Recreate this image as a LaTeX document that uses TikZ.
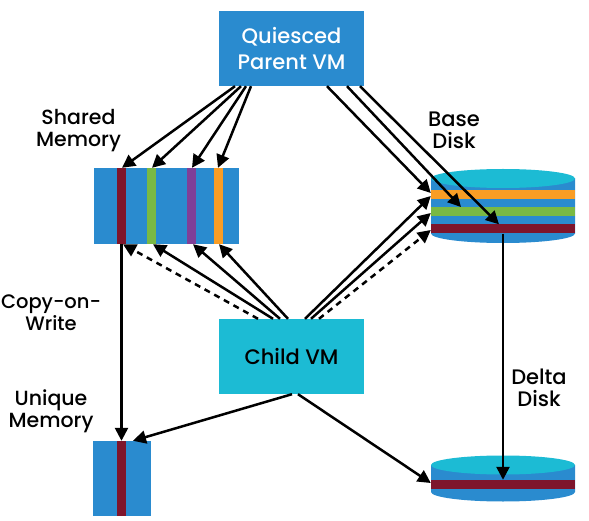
\documentclass[tikz,border=0pt]{standalone}
\usepackage{fontspec}
\setmainfont{Poppins Medium}
\usetikzlibrary{arrows.meta}
\definecolor{cblue}{HTML}{2A8BCF}
\definecolor{cteal}{HTML}{1CBBD4}
\definecolor{cmaroon}{HTML}{7E152C}
\definecolor{cgreen}{HTML}{7AB944}
\definecolor{cpurple}{HTML}{7F3F98}
\definecolor{corange}{HTML}{F99D25}
\tikzset{
  vmbox/.style={inner sep=0pt,minimum width=145pt,minimum height=75pt,align=center,font=\fontsize{21}{25.5}\selectfont},
  membox/.style={fill=cblue,inner sep=0pt,minimum height=76pt},
  vstripe/.style={inner sep=0pt,minimum width=9pt,minimum height=76pt},
  hband/.style={inner sep=0pt,minimum width=144pt,minimum height=9pt},
  lbl/.style={align=center,text=black,font=\fontsize{20.5}{22}\selectfont},
  arr/.style={line width=2.5pt,-{Triangle[length=13pt,width=13pt]}},
  dash arr/.style={arr,dash pattern=on 6pt off 5pt}
}
\begin{document}
\begin{tikzpicture}[x=1pt,y=-1pt]
\useasboundingbox (0,0) rectangle (589,521);
% shared memory
\node[membox,minimum width=145.5pt] (shared) at (166.25,206) {};
\node[vstripe,fill=cmaroon] (s1) at (121.5,206) {};
\node[vstripe,fill=cgreen] (s2) at (151.5,206) {};
\node[vstripe,fill=cpurple] (s3) at (191.5,206) {};
\node[vstripe,fill=corange] (s4) at (218.5,206) {};
% unique memory
\node[membox,minimum width=58pt,minimum height=75pt] (unique) at (122,478.5) {};
\node[vstripe,fill=cmaroon,minimum height=75pt] (u1) at (121.5,478.5) {};
% base disk
\fill[cblue] (431,178.5) -- (431,233.5) arc[start angle=180,end angle=360,x radius=72pt,y radius=9.5pt] -- (575,178.5) -- cycle;
\node[hband,fill=corange] (b1) at (503,194.5) {};
\node[hband,fill=cgreen] (b2) at (503,212) {};
\node[hband,fill=cmaroon] (b3) at (503,229) {};
\fill[cteal] (503,178.5) ellipse[x radius=72pt,y radius=9.5pt];
% delta disk
\fill[cblue] (431,465) -- (431,492) arc[start angle=180,end angle=360,x radius=72pt,y radius=9.5pt] -- (575,465) -- cycle;
\node[hband,fill=cmaroon] (d1) at (503,484.5) {};
\fill[cteal] (503,465) ellipse[x radius=72pt,y radius=9.5pt];
% VMs
\node[vmbox,fill=cblue,text=white] (parent) at (291.5,48.5) {Quiesced\\Parent VM};
\node[vmbox,fill=cteal,text=black] (child) at (291.5,356.5) {Child VM};
% labels
\node[lbl] (lshared) at (78.5,130.5) {Shared\\Memory};
\node[lbl,font=\fontsize{21}{22}\selectfont] (lbase) at (454,130) {Base\\Disk};
\node[lbl,font=\fontsize{19.5}{22}\selectfont] (lcow) at (51,313) {Copy-on-\\Write};
\node[lbl] (lunique) at (51,411.5) {Unique\\Memory};
\node[lbl,font=\fontsize{21}{22}\selectfont] (ldelta) at (539,388) {Delta\\Disk};
% parent to shared
\draw[arr] ([xshift=-56.5pt]parent.south) -- ([xshift=.5pt]s1.north);
\draw[arr] ([xshift=-50.5pt]parent.south) -- ([xshift=.5pt]s2.north);
\draw[arr] ([xshift=-45.5pt]parent.south) -- ([xshift=.5pt]s3.north);
\draw[arr] ([xshift=-40.5pt]parent.south) -- ([xshift=-.5pt]s4.north);
% parent to base
\draw[arr] ([xshift=35.5pt]parent.south) -- ([yshift=1.5pt]b1.west);
\draw[arr] ([xshift=55.5pt]parent.south) -- (461,207);
\draw[arr] ([xshift=68.5pt]parent.south) -- ([xshift=-4pt]b3.north);
% child to shared
\draw[dash arr] ([xshift=-33.5pt]child.north) -- ([xshift=1.5pt]s1.south);
\draw[arr] ([xshift=-18.5pt]child.north) -- ([xshift=1.5pt]s2.south);
\draw[arr] ([xshift=-11.5pt]child.north) -- ([xshift=1.5pt]s3.south);
\draw[arr] ([xshift=-3.5pt]child.north) -- ([xshift=.5pt]s4.south);
% child to base
\draw[arr] ([xshift=13.5pt]child.north) -- ([yshift=-1.5pt]b1.west);
\draw[arr] ([xshift=19.5pt]child.north) -- ([yshift=-1pt]b2.west);
\draw[dash arr] ([xshift=27.5pt]child.north) -- ([yshift=-1pt]b3.west);
% verticals
\draw[arr] (s1.south) -- (u1.north);
\draw[arr] (b3.south) -- (d1.north);
% child to unique, delta
\draw[arr] ([xshift=.5pt]child.south) -- ([xshift=11pt]unique.north);
\draw[arr] ([xshift=6.5pt]child.south) -- ([yshift=1.5pt]d1.west);
\end{tikzpicture}
\end{document}
